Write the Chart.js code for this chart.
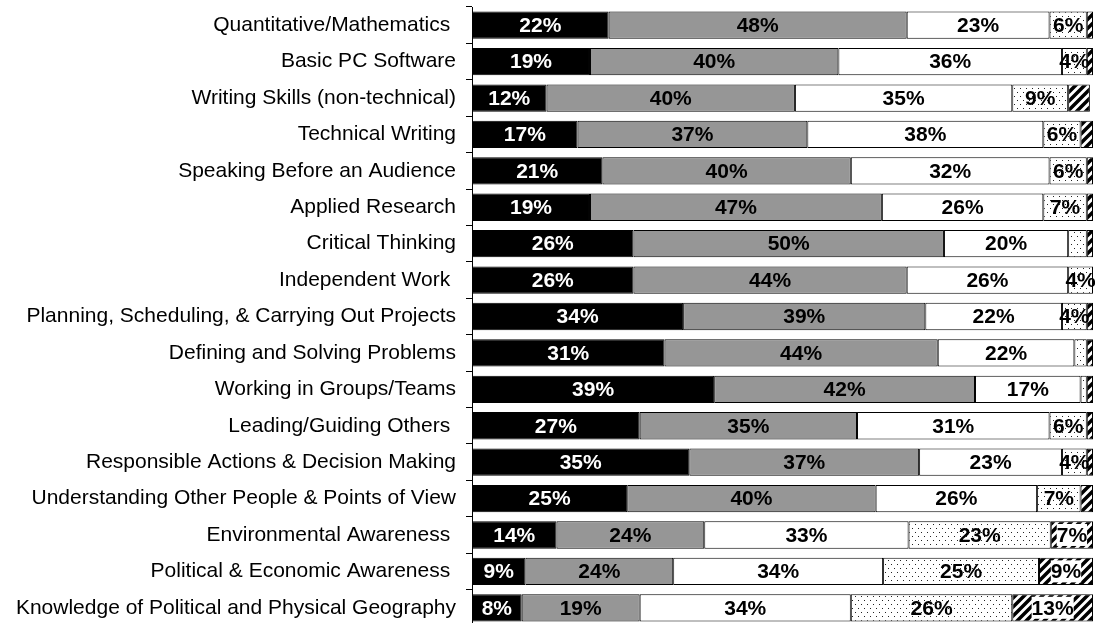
<!DOCTYPE html>
<html>
<head>
<meta charset="utf-8">
<script src="https://cdn.jsdelivr.net/npm/chart.js@4/dist/chart.umd.min.js"></script>
<style>
  html, body { margin: 0; padding: 0; background: #fff; overflow: hidden; }
  #wrap { width: 1095px; height: 628px; }
</style>
</head>
<body>
<div id="wrap"><canvas id="skills" width="1095" height="628"></canvas></div>
<script>
// skill areas, top to bottom
const skills = [
  "Quantitative/Mathematics ", "Basic PC Software", "Writing Skills (non-technical)",
  "Technical Writing", "Speaking Before an Audience", "Applied Research",
  "Critical Thinking", "Independent Work ", "Planning, Scheduling, & Carrying Out Projects",
  "Defining and Solving Problems", "Working in Groups/Teams", "Leading/Guiding Others ",
  "Responsible Actions & Decision Making", "Understanding Other People & Points of View",
  "Environmental Awareness ", "Political & Economic Awareness ",
  "Knowledge of Political and Physical Geography"
];

// percent of responses, one array per rating band
const bandBlack  = [22, 19, 12, 17, 21, 19, 26, 26, 34, 31, 39, 27, 35, 25, 13.6, 8.6, 8];
const bandGray   = [48, 40, 40, 37, 40, 47, 50, 44, 39, 44, 42, 35, 37, 40, 23.8, 23.8, 19];
const bandWhite  = [23, 36, 35, 38, 32, 26, 20, 26, 22, 22, 17, 31, 23, 26, 32.9, 33.8, 34];
const bandDots   = [6, 4, 9, 6, 6, 7, 3, 4, 4, 2, 1, 6, 4, 7, 22.9, 25.1, 26];
const bandHatch  = [1, 1, 3.5, 2, 1, 1, 1, 0.5, 1, 1, 1, 1, 1, 2, 6.8, 8.7, 13];

// fill patterns
function dotPattern() {
  const c = document.createElement("canvas");
  c.width = 6; c.height = 8;
  const g = c.getContext("2d");
  g.fillStyle = "#fff"; g.fillRect(0, 0, 6, 8);
  g.fillStyle = "#222";
  g.fillRect(0, 0, 1, 1);
  g.fillRect(3, 4, 1, 1);
  return g.createPattern(c, "repeat");
}
function hatchPattern() {
  const c = document.createElement("canvas");
  c.width = 9; c.height = 9;
  const g = c.getContext("2d");
  g.fillStyle = "#fff"; g.fillRect(0, 0, 9, 9);
  g.strokeStyle = "#000"; g.lineWidth = 3.5;
  g.beginPath();
  g.moveTo(-2, 11); g.lineTo(11, -2);
  g.moveTo(-7, 7); g.lineTo(7, -7);
  g.moveTo(2, 16); g.lineTo(16, 2);
  g.stroke();
  return g.createPattern(c, "repeat");
}

// percent labels drawn in the middle of each piece
const barLabels = {
  id: "barLabels",
  afterDatasetsDraw(chart) {
    const ctx = chart.ctx;
    ctx.save();
    ctx.font = "bold 21px 'Liberation Sans', Arial, sans-serif";
    ctx.textAlign = "center";
    ctx.textBaseline = "middle";
    chart.data.datasets.forEach((ds, i) => {
      const meta = chart.getDatasetMeta(i);
      meta.data.forEach((bar, j) => {
        const v = ds.data[j];
        if (v < 4) return;
        const txt = Math.round(v) + "%";
        const x = (bar.x + bar.base) / 2;
        if (ds.whiteBox) {
          const w = ctx.measureText(txt).width;
          ctx.fillStyle = "#fff";
          ctx.fillRect(x - w / 2, bar.y - 11, w, 22);
        }
        ctx.fillStyle = ds.labelColor;
        ctx.fillText(txt, x, bar.y + 1);
      });
    });
    ctx.restore();
  }
};

const common = { borderColor: "#000", borderWidth: 1, borderSkipped: false, barPercentage: 0.75, categoryPercentage: 1 };

new Chart(document.getElementById("skills"), {
  type: "bar",
  data: {
    labels: skills,
    datasets: [
      { ...common, data: bandBlack, backgroundColor: "#000", labelColor: "#fff" },
      { ...common, data: bandGray, backgroundColor: "#969696", labelColor: "#000" },
      { ...common, data: bandWhite, backgroundColor: "#fff", labelColor: "#000" },
      { ...common, data: bandDots, backgroundColor: dotPattern(), labelColor: "#000" },
      { ...common, data: bandHatch, backgroundColor: hatchPattern(), labelColor: "#000", whiteBox: true }
    ]
  },
  options: {
    indexAxis: "y",
    responsive: false,
    animation: false,
    layout: { padding: { top: 7, right: 2, bottom: 2, left: 0 } },
    plugins: { legend: { display: false }, tooltip: { enabled: false } },
    scales: {
      x: { stacked: true, min: 0, max: 100, display: false },
      y: {
        stacked: true,
        afterFit: s => { s.width = 472; s.paddingTop = 0; s.paddingBottom = 0; },
        border: { display: true, color: "#000", width: 1 },
        grid: { display: true, drawOnChartArea: false, drawTicks: true, tickLength: 6, color: "#000", offset: true },
        ticks: { color: "#000", padding: 10, font: { family: "'Liberation Sans', Arial, sans-serif", size: 21 } }
      }
    }
  },
  plugins: [barLabels]
});
</script>
</body>
</html>
